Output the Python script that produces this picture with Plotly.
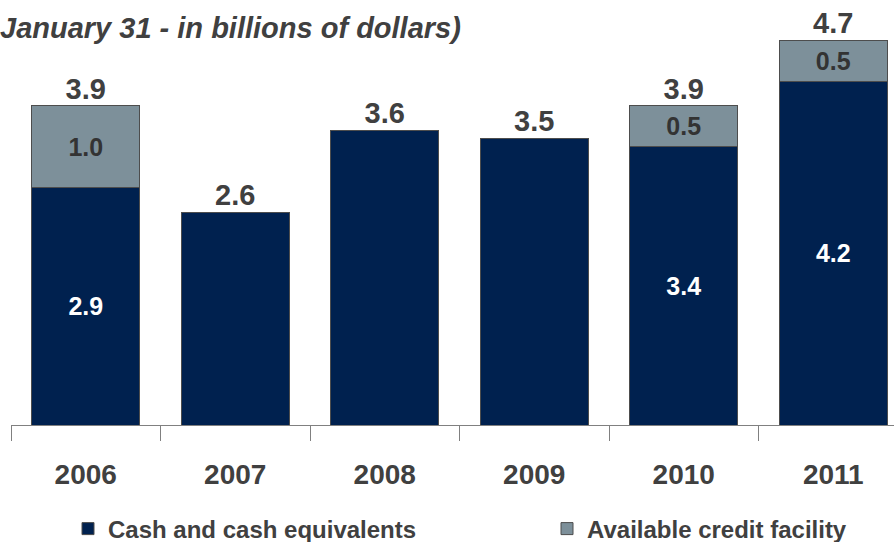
import plotly.graph_objects as go

years = ["2006", "2007", "2008", "2009", "2010", "2011"]
cash = [2.9, 2.6, 3.6, 3.5, 3.4, 4.2]
credit = [1.0, 0, 0, 0, 0.5, 0.5]
totals = [3.9, 2.6, 3.6, 3.5, 3.9, 4.7]
cash_inner_labels = ["2.9", "", "", "", "3.4", "4.2"]
credit_labels = ["1.0", "", "", "", "0.5", "0.5"]

FONT = "Liberation Sans, Arial, sans-serif"
TXT = "#404040"

fig = go.Figure()
fig.add_trace(go.Bar(
    x=years, y=cash, name="Cash and cash equivalents", legend="legend",
    marker=dict(color="#00214f", line=dict(color="#4d4d4d", width=1)),
    text=cash_inner_labels, textposition="inside", insidetextanchor="middle",
    textangle=0, constraintext="none",
    textfont=dict(family=FONT, size=25, color="white", weight="bold"),
    hoverinfo="skip",
))
fig.add_trace(go.Bar(
    x=years, y=credit, name="Available credit facility", legend="legend2",
    marker=dict(color="#7d909a", line=dict(color="#4d4d4d", width=1)),
    text=credit_labels, textposition="inside", insidetextanchor="middle",
    textangle=0, constraintext="none",
    textfont=dict(family=FONT, size=25, color="#333333", weight="bold"),
    hoverinfo="skip",
))
fig.add_trace(go.Scatter(
    x=years, y=totals, mode="text", text=[f"{v:.1f}" for v in totals],
    textposition="top center", showlegend=False, hoverinfo="skip",
    cliponaxis=False,
    textfont=dict(family=FONT, size=29, color=TXT, weight="bold"),
))

legend_font = dict(family=FONT, size=24, color="#404040", weight="bold")
legend_y = -(529 - 425) / 405

fig.update_layout(
    width=894, height=542,
    margin=dict(l=11, r=0, t=20, b=117, autoexpand=False),
    barmode="stack", bargap=0.28,
    plot_bgcolor="white", paper_bgcolor="white",
    font=dict(family=FONT, color=TXT),
    xaxis=dict(
        type="category", range=[-0.5, -0.5 + 883 / 149.5],
        showline=True, linecolor="#808080", linewidth=1,
        ticks="outside", tickson="boundaries", ticklen=15, tickcolor="#808080",
        ticklabelstandoff=24,
        tickfont=dict(family=FONT, size=28, color=TXT, weight="bold"),
        showgrid=False, zeroline=False,
    ),
    yaxis=dict(range=[0, 405 / 81.8], visible=False, showgrid=False),
    legend=dict(
        x=(68 - 11) / 883, xanchor="left", y=legend_y, yanchor="middle",
        font=legend_font, bgcolor="rgba(0,0,0,0)",
    ),
    legend2=dict(
        x=(547 - 11) / 883, xanchor="left", y=legend_y, yanchor="middle",
        font=legend_font, bgcolor="rgba(0,0,0,0)",
    ),
    annotations=[dict(
        text="January 31 - in billions of dollars)", xref="paper", yref="paper",
        x=-13 / 883, y=(425 - 28) / 405, xanchor="left", yanchor="middle",
        showarrow=False,
        font=dict(family=FONT, size=29, color=TXT, weight="bold", style="italic"),
    )],
)

fig.write_html("out.html")
